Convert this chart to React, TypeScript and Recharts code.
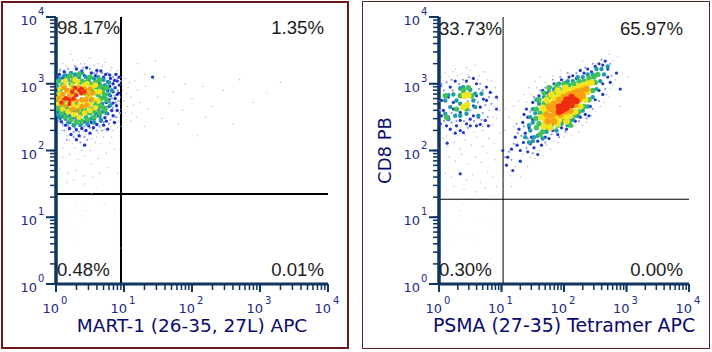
import { ScatterChart, Scatter, XAxis, YAxis, ReferenceLine } from "recharts";

type Pair = number[];

const tickValues = [
  1, 2, 3, 4, 5, 6, 7, 8, 9, 10, 20, 30, 40, 50, 60, 70, 80, 90, 100, 200, 300, 400, 500, 600, 700, 800, 900, 1000,
  2000, 3000, 4000, 5000, 6000, 7000, 8000, 9000, 10000,
];
const majorExponents: Record<number, number> = { 1: 0, 10: 1, 100: 2, 1000: 3, 10000: 4 };

const leftSoft: Pair[] = [
  [.08,1.32],[.16,1.28],[.24,1.3],[.3,1.26],[.38,1.24],[.42,1.3],[.05,1.16],[.12,1.08],[.2,1.12],[.3,1.14],[.38,1.02],[.46,1.1],[.64,1.24],[.72,1.2],
  [.14,.98],[.06,.86],[.2,.9],[.26,.82],[.34,.7],[.16,.72],[.26,.66],[.46,.98],[.96,.54],[.86,1.08],[.1,.5],[1.32,1.3],[.52,1.36],[.6,1.44],[.1,1.44],[.7,1.5],
];
const leftFaint: Pair[] = [
  [.05,2.26],[.12,2.1],[.2,2.15],[.28,2.04],[.36,2.2],[.44,2.1],[.5,2.0],[.6,2.2],[.66,2.1],[.74,2.28],[.82,2.2],[.9,2.34],[.1,1.9],[.2,1.94],[.32,1.86],[.42,1.92],[.52,1.8],[.62,1.88],[.74,1.96],[.86,2.02],
  [.06,1.72],[.18,1.66],[.3,1.7],[.4,1.62],[.54,1.6],[.64,1.66],[.76,1.74],[.9,1.66],[.16,1.52],[.26,1.56],[.42,1.5],
  [.1,3.3],[.24,3.36],[.36,3.3],[.5,3.38],[.62,3.3],[.72,3.32],[.82,3.24],[.22,3.44],[.9,3.16],[.96,3.1],[.98,2.9],[.94,2.7],[.98,2.52],[.92,2.44],[.8,2.36],[.66,2.34],[.1,2.36],[.96,2.36],
  [1.02,3.08],[1.06,2.94],[1.1,2.8],[1.05,2.66],[1.12,2.56],[1.16,3.04],[1.2,2.9],[1.24,2.72],[1.1,2.44],[1.3,3.14],[1.32,2.96],[1.36,2.62],[1.3,2.36],[1.44,3.06],[1.5,2.8],[1.56,2.48],[1.46,3.34],[1.6,3.1],
  [1.66,2.7],[1.72,2.88],[1.8,2.4],[1.9,3.0],[2.0,2.78],[2.08,2.22],[2.16,2.96],[2.3,2.66],[2.46,2.9],[2.6,2.4],[2.7,3.06],[2.9,2.72],[3.1,2.86],[3.3,3.02],[2.2,2.5],[1.2,3.3],[1.86,2.6],
  [.08,2.3],[.18,2.3],[.28,2.26],[.4,2.28],[.54,2.3],[.62,2.26],[.72,2.32],[.84,2.3],[.9,2.5],[.96,2.62],[.95,2.8],[.97,3.0],[.9,3.2],[.8,3.2],[.68,3.26],[.56,3.28],[.42,3.3],[.16,3.26],[.06,3.22],
  [.3,2.3],[.48,2.22],[.16,2.22],[.7,2.2],[.24,2.1],[.58,2.12],[.38,2.0],[.1,2.04],[.8,2.1],[.52,2.18],[1.0,2.74],[1.02,2.56],[1.04,2.86],[1.08,3.02],[1.14,2.68],[1.18,2.5],
];
const leftHaze: Pair[] = [
  [.06,3.2],[.18,3.22],[.28,3.26],[.4,3.24],[.5,3.22],[.6,3.16],[.68,3.16],[.76,3.16],[.84,3.1],[.9,3.08],[.95,3.04],[.82,2.92],[.91,2.9],[.86,2.82],[.92,2.74],[.88,2.72],[.84,2.64],[.94,2.56],[.88,2.5],[.8,2.46],[.78,2.4],
  [.7,2.42],[.64,2.36],[.58,2.4],[.5,2.34],[.42,2.36],[.34,2.28],[.26,2.28],[.18,2.36],[.1,2.4],[.04,2.44],[.12,2.3],[.42,2.2],[.6,2.3],[.68,2.3],[.16,2.16],[.26,2.2],[.36,2.12],[.46,2.16],[.28,2.34],[.72,2.58],[.8,2.72],[.7,3.04],
  [.56,3.16],[.34,3.18],[.14,3.16],[.78,2.98],[.82,2.78],[.66,2.5],[.24,2.4],[.4,2.4],[.5,2.44],[.08,2.5],
];
const leftBlue: Pair[] = [
  [.3,3.22],[.45,3.24],[.6,3.2],[.12,3.18],[.22,3.15],[.38,3.19],[.52,3.16],[.66,3.19],[.73,3.14],[.05,3.14],[.16,3.12],[.3,3.13],[.42,3.12],[.58,3.12],[.7,3.1],[.79,3.13],[.88,3.14],[.02,3.1],[.1,3.09],
  [.8,3.08],[.86,3.05],[.93,3.1],[.76,3.03],[.84,3.0],[.9,3.04],[.79,2.96],[.87,2.94],[.93,2.98],[.76,2.9],[.84,2.88],[.9,2.84],[.8,2.82],[.87,2.78],[.78,2.76],[.74,2.72],[.84,2.71],[.89,2.67],[.78,2.66],[.72,2.62],[.82,2.6],[.9,2.6],
  [.68,2.58],[.76,2.55],[.84,2.52],[.02,2.58],[.03,2.52],[.1,2.52],[.62,2.52],[.72,2.49],[.06,2.48],[.14,2.47],[.24,2.48],[.56,2.47],[.66,2.44],[.74,2.44],[.08,2.43],[.2,2.42],[.3,2.44],[.42,2.43],[.52,2.42],[.6,2.39],[.7,2.38],
  [.14,2.38],[.26,2.37],[.36,2.38],[.48,2.37],[.55,2.34],[.2,2.33],[.3,2.31],[.38,2.33],[.44,2.3],[.22,2.24],[.34,2.22],[.5,2.26],[.3,2.16],[.42,2.08],[.86,2.42],[.76,2.32],[1.42,3.1],[.92,2.86],
];
const leftTeal: Pair[] = [
  [.12,3.12],[.28,3.14],[.44,3.1],[.56,3.08],[.06,3.08],[.18,3.06],[.34,3.1],[.48,3.06],[.62,3.04],[.7,3.06],[.02,3.03],[.12,3.0],[.64,3.0],[.72,2.98],[.76,2.93],[.02,2.96],[.7,2.92],[.78,2.84],[.7,2.8],
  [.76,2.74],[.68,2.7],[.72,2.64],[.02,2.7],[.03,2.64],[.62,2.62],[.68,2.58],[.06,2.6],[.14,2.55],[.58,2.56],[.64,2.52],[.2,2.52],[.28,2.5],[.36,2.46],[.44,2.5],[.52,2.48],[.3,2.44],[.12,2.5],[.1,2.62],[.26,2.56],
  [.18,2.42],[.26,2.38],[.36,2.38],[.46,2.4],[.56,2.42],[.66,2.46],[.74,2.56],[.8,2.68],[.82,2.9],[.78,3.02],[.02,2.54],[.06,2.5],[.62,3.1],[.22,3.16],[.38,3.16],
];
const leftGreen: Pair[] = [
  [.04,3.04],[.16,3.08],[.26,3.08],[.38,3.04],[.5,3.0],[.58,3.02],[.66,2.96],[.1,2.98],[.24,3.02],[.44,3.02],[.6,2.94],[.68,2.88],[.72,2.84],[.62,2.84],[.66,2.78],[.62,2.72],[.66,2.66],[.58,2.68],[.56,2.6],[.5,2.56],
  [.44,2.56],[.36,2.54],[.26,2.6],[.18,2.6],[.1,2.66],[.04,2.72],[.04,2.86],[.02,2.78],[.12,2.72],[.3,2.62],[.4,2.6],[.52,2.62],
  [.14,2.5],[.22,2.46],[.3,2.42],[.38,2.44],[.46,2.46],[.56,2.5],[.64,2.56],[.72,2.62],[.74,2.76],[.74,2.94],[.08,2.56],[.03,2.62],[.2,3.12],[.34,3.14],[.5,3.1],[.64,3.06],
];
const leftYellow: Pair[] = [
  [.12,2.96],[.22,2.98],[.32,3.02],[.42,2.98],[.52,2.94],[.58,2.88],[.5,2.82],[.56,2.76],[.5,2.7],[.42,2.66],[.34,2.66],[.26,2.68],[.18,2.7],[.1,2.76],[.06,2.84],[.06,2.92],[.28,2.92],[.4,2.72],[.48,2.88],
  [.1,2.62],[.18,2.58],[.26,2.54],[.34,2.5],[.42,2.56],[.5,2.6],[.58,2.64],[.62,2.74],[.64,2.88],[.58,2.98],[.04,2.7],[.46,3.0],[.28,3.06],[.14,3.04],
];
const leftOrange: Pair[] = [
  [.16,2.9],[.24,2.92],[.34,2.94],[.42,2.92],[.46,2.84],[.38,2.86],[.14,2.78],[.22,2.76],[.3,2.74],[.1,2.84],[.2,2.84],[.38,2.76],[.44,2.76],[.28,2.84],[.34,2.92],
  [.08,2.7],[.16,2.66],[.24,2.62],[.32,2.6],[.38,2.66],[.46,2.68],[.52,2.76],[.54,2.86],[.5,2.92],[.12,2.94],[.04,2.78],
];
const leftRed: Pair[] = [
  [.34,2.9],[.37,2.86],[.3,2.83],[.16,2.78],[.2,2.76],[.12,2.78],[.26,2.78],[.38,2.93],[.24,2.88],[.2,2.7],[.08,2.72],[.42,2.88],[.28,2.94],
];
const leftSpeckle: Pair[] = [
  [.2,3.0],[.46,3.06],[.58,2.72],[.32,2.6],[.16,2.64],[.54,2.9],[.08,2.9],[.3,2.7],[.42,2.84],[.24,2.96],[.5,2.76],[.12,2.58],[.44,2.62],[.36,3.0],[.6,2.82],
];
const leftSpeckleWarm: Pair[] = [
  [.3,2.88],[.18,2.86],[.1,2.8],[.24,2.7],[.34,2.7],[.44,2.82],[.4,2.96],[.14,2.7],[.22,2.94],[.5,2.7],[.06,2.76],[.3,2.64],
];

const rightSoft: Pair[] = [
  [.2,1.18],[.3,1.24],[.38,1.2],[.5,1.3],[.6,1.32],[.72,1.3],[.82,1.32],[.9,1.24],[.34,1.1],[.62,1.0],[.7,.96],[.8,.92],[.86,.88],[.18,.82],[.24,.76],[.3,.68],[.14,.7],[.22,.62],[.48,.7],[.64,.66],[.14,.52],[.1,.42],
  [.96,1.34],[.32,1.02],
];
const rightFaint: Pair[] = [
  [.06,2.18],[.14,2.06],[.24,2.12],[.34,2.02],[.42,2.16],[.52,2.08],[.6,2.2],[.7,2.06],[.8,2.18],[.88,2.1],[.16,1.9],[.26,1.84],[.36,1.94],[.46,1.8],[.58,1.9],[.68,1.82],[.76,1.96],[.9,1.86],[.1,1.66],[.2,1.6],[.32,1.7],[.44,1.56],
  [.54,1.64],[.66,1.52],[.78,1.68],[.86,1.6],[.24,1.46],[.4,1.42],[.6,1.38],[.74,1.44],[.92,1.46],
  [.1,3.16],[.22,3.18],[.36,3.14],[.5,3.2],[.64,3.12],[.72,3.18],[.84,3.04],[.9,2.94],[.94,2.76],[.88,2.66],[.92,2.48],[.84,2.38],[.7,2.3],[.06,2.34],[.18,2.3],[.58,3.28],[.98,2.6],[.98,2.26],
  [1.06,2.62],[1.12,2.5],[1.2,2.66],[1.28,2.74],[1.36,2.84],[1.44,2.94],[1.54,3.04],[1.62,3.1],[1.06,2.3],[1.2,2.36],[1.04,1.56],[1.14,1.62],[1.22,1.76],[1.32,1.82],[1.42,1.76],[1.54,1.88],[1.66,1.92],[1.78,2.02],
  [1.9,2.12],[2.0,2.2],[2.12,2.22],[2.24,2.28],[2.36,2.42],[2.5,2.58],[2.64,2.72],[2.74,2.92],[2.82,3.06],[2.78,3.34],[2.72,3.44],[2.86,3.4],[1.02,2.16],[1.16,1.46],[1.3,1.6],[2.68,2.84],[2.9,2.66],[3.02,3.1],[2.3,3.34],[1.94,3.2],
  [.04,3.1],[.16,3.1],[.3,3.12],[.46,3.14],[.62,3.06],[.78,3.06],[.86,2.86],[.88,2.78],[.8,2.6],[.86,2.5],[.7,2.36],[.56,2.28],[.42,2.24],[.3,2.22],[.12,2.22],[.26,3.22],[.44,3.24],
  [1.3,2.5],[1.4,2.72],[1.48,2.84],[1.56,2.94],[1.7,3.02],[1.82,3.12],[1.34,1.94],[1.46,1.9],[1.6,2.0],[1.72,2.08],[1.84,2.14],[2.06,2.26],[2.3,2.38],[2.44,2.52],[2.58,2.66],[2.72,2.8],[2.78,2.98],
];
const rightHaze: Pair[] = [
  [.04,3.0],[.12,3.02],[.2,3.06],[.32,3.0],[.38,3.06],[.48,3.1],[.66,3.0],[.7,2.9],[.8,2.8],[.74,2.68],[.84,2.7],[.7,2.56],[.78,2.5],[.68,2.46],[.56,2.44],[.46,2.34],[.4,2.44],[.28,2.44],[.2,2.42],[.08,2.44],[.02,2.6],[.02,2.74],[.08,2.9],
  [.22,2.9],[.46,2.74],[.3,2.6],[.2,2.56],[.5,2.6],[.62,2.72],[.64,2.92],
  [1.24,2.4],[1.32,2.22],[1.2,2.1],[1.12,1.98],[1.4,2.04],[1.5,1.96],[1.36,2.36],[1.46,2.58],[1.52,2.8],[1.62,2.9],[1.7,2.94],[1.82,3.06],[1.94,3.1],[2.06,3.16],[2.2,3.16],[2.34,3.24],[2.46,3.3],[2.6,3.36],[2.74,3.3],
  [1.7,2.12],[1.8,2.24],[1.92,2.2],[2.02,2.28],[2.14,2.36],[2.24,2.44],[2.36,2.48],[2.46,2.62],[2.56,2.74],[2.66,2.92],[2.76,3.12],[1.26,2.26],[1.16,1.86],[1.06,1.9],[1.42,2.18],
];
const rightBlue: Pair[] = [
  [.26,3.04],[.44,3.04],[.55,3.08],[.6,3.0],[.02,2.97],[.76,2.95],[.18,2.95],[.34,2.94],[.82,2.87],[.1,2.82],[.15,2.8],[.6,2.82],[.92,2.8],[.71,2.77],[.04,2.75],[.23,2.72],[.76,2.75],[.55,2.67],[.66,2.65],[.92,2.62],
  [.07,2.6],[.23,2.62],[.34,2.57],[.55,2.52],[.04,2.52],[.15,2.5],[.34,2.45],[.5,2.47],[.63,2.5],[.74,2.45],[.79,2.37],[.6,2.37],[.66,2.39],[.12,2.37],[.28,2.37],[.44,2.4],[.34,2.3],[.26,2.26],[.39,2.27],[.13,2.11],[.34,1.65],
  [.02,2.4],[.18,2.32],[.5,2.37],
  [1.42,2.5],[1.5,2.72],[1.55,2.62],[1.6,2.82],[1.66,2.9],[1.72,2.86],[1.78,2.95],[1.84,3.0],[1.9,2.94],[1.96,3.06],[2.02,3.02],[2.08,3.1],[2.14,3.12],[2.2,3.08],[2.26,3.2],[2.32,3.16],[2.38,3.22],[2.44,3.18],[2.5,3.26],[2.56,3.3],[2.62,3.28],[2.66,3.34],[2.7,3.22],
  [1.3,2.0],[1.35,2.12],[1.42,1.98],[1.46,2.1],[1.52,2.04],[1.58,2.14],[1.64,2.08],[1.7,2.2],[1.76,2.18],[1.82,2.3],[1.9,2.24],[1.96,2.34],[2.04,2.32],[2.1,2.4],[2.18,2.44],[2.26,2.5],[2.34,2.54],[2.42,2.66],[2.5,2.76],[2.56,2.9],[2.62,3.0],[2.7,3.1],
  [1.02,2.0],[1.1,1.9],[1.16,2.02],[1.22,2.2],[1.28,2.32],[1.34,2.42],[1.25,2.08],[1.08,1.78],[1.38,2.26],[1.18,1.7],[1.3,1.84],[1.44,2.34],[1.48,2.2],[1.4,2.62],[1.36,2.54],[1.5,2.46],[2.62,2.84],[2.74,3.02],[2.84,3.16],[2.9,2.92],[2.4,2.52],[1.58,1.94],
];
const rightTeal: Pair[] = [
  [.15,2.83],[.23,2.84],[.1,2.75],[.34,2.93],[.39,2.95],[.5,2.91],[.58,2.85],[.28,2.75],[.34,2.7],[.18,2.65],[.1,2.55],[.15,2.47],[.26,2.52],[.58,2.65],[.63,2.52],[.34,2.52],[.44,2.55],[.55,2.75],[.68,2.85],
  [1.54,2.56],[1.6,2.7],[1.68,2.8],[1.76,2.88],[1.84,2.92],[1.92,3.0],[2.0,2.98],[2.06,3.04],[2.14,3.04],[2.22,3.1],[2.3,3.1],[2.38,3.14],[2.46,3.14],[2.52,3.22],[2.6,3.22],[2.64,3.14],
  [1.46,2.3],[1.52,2.2],[1.58,2.22],[1.66,2.18],[1.72,2.28],[1.8,2.36],[1.88,2.3],[1.96,2.4],[2.06,2.38],[2.14,2.46],[2.22,2.52],[2.3,2.6],[2.38,2.66],[2.46,2.8],[2.52,2.92],[2.58,3.04],[1.5,2.42],[1.56,2.34],
  [1.46,2.5],[1.44,2.38],[1.5,2.62],[1.56,2.76],[1.38,2.2],[1.44,2.12],[1.5,2.14],[2.7,3.26],
];
const rightGreen: Pair[] = [
  [.39,2.9],[.47,2.94],[.52,2.82],[.34,2.82],[.1,2.82],[.39,2.65],[.44,2.62],[.12,2.5],[.28,2.62],
  [1.62,2.56],[1.68,2.7],[1.76,2.8],[1.84,2.86],[1.92,2.92],[2.0,2.92],[2.08,2.98],[2.16,3.0],[2.24,3.04],[2.32,3.04],[2.4,3.08],[2.48,3.1],[2.54,3.14],
  [1.6,2.4],[1.66,2.28],[1.74,2.34],[1.82,2.42],[1.9,2.38],[1.98,2.46],[2.08,2.44],[2.16,2.52],[2.24,2.58],[2.32,2.66],[2.4,2.76],[2.46,2.9],[2.5,3.02],
  [1.55,2.48],[1.56,2.62],[1.6,2.76],[1.68,2.86],[1.76,2.94],[1.88,2.98],[2.0,3.0],[1.56,2.34],[1.62,2.24],[2.1,2.38],
];
const rightYellow: Pair[] = [
  [.41,2.82],[.47,2.83],[.39,2.65],[.45,2.68],
  [1.7,2.6],[1.76,2.7],[1.84,2.78],[1.92,2.84],[2.0,2.86],[2.08,2.9],[2.16,2.92],[2.24,2.96],[2.32,2.98],[2.38,3.0],[2.44,3.02],
  [1.7,2.44],[1.76,2.42],[1.84,2.5],[1.92,2.46],[2.0,2.52],[2.1,2.52],[2.18,2.58],[2.26,2.66],[2.34,2.76],[2.38,2.88],[1.72,2.52],[2.3,2.86],
  [1.64,2.5],[1.66,2.64],[1.72,2.76],[1.8,2.84],[1.9,2.9],[2.02,2.94],[1.68,2.36],[1.78,2.34],[1.9,2.4],[2.04,2.44],
];
const rightOrange: Pair[] = [
  [1.78,2.62],[1.84,2.7],[1.92,2.76],[2.0,2.8],[2.08,2.84],[2.16,2.86],[2.22,2.88],[2.28,2.9],
  [1.8,2.52],[1.86,2.56],[1.94,2.54],[2.02,2.58],[2.1,2.6],[2.18,2.68],[2.24,2.76],[2.3,2.82],[1.86,2.64],[1.94,2.66],[2.2,2.8],
  [1.72,2.54],[1.74,2.44],[1.84,2.44],[1.76,2.66],[2.0,2.74],[2.26,2.86],[2.36,2.92],
];
const rightRed: Pair[] = [
  [1.92,2.66],[1.96,2.6],[2.0,2.7],[2.04,2.64],[2.08,2.72],[2.12,2.68],[2.16,2.76],[2.2,2.74],[1.92,2.58],[2.04,2.76],[2.12,2.8],[2.0,2.62],
];

const toPoints = (pairs: Pair[]) => pairs.map(([a, b]) => ({ x: 10 ** a, y: 10 ** b }));

const dot = (size: number, color: string) => (p: any) => <circle cx={p.cx} cy={p.cy} r={size / 2} fill={color} />;

const TICK_COLOR = "#0f3560";
const LABEL_COLOR = "#1d2a86";
const TITLE_COLOR = "#0a0a6e";
const FONT = "'DejaVu Sans', sans-serif";
const TICK_SIZE = 6; // the axis hands its ticks this far from the line

const XTick = ({ x, y, payload }: any) => {
  const exp = majorExponents[payload.value];
  if (exp === undefined) return <g />;
  const base = y - TICK_SIZE;
  return (
    <g>
      <rect x={x - 1} y={base} width={2} height={8} fill={TICK_COLOR} />
      <text x={x + 3} y={base + 29} textAnchor="end" fontFamily={FONT} fontSize={13} fill={LABEL_COLOR}>
        10
      </text>
      <text x={x + 5} y={base + 20} fontFamily={FONT} fontSize={10} fill={LABEL_COLOR}>
        {exp}
      </text>
    </g>
  );
};

const YTick = ({ x, y, payload }: any) => {
  const exp = majorExponents[payload.value];
  if (exp === undefined) return <g />;
  const base = x + TICK_SIZE;
  return (
    <g>
      <rect x={base - 10} y={y - 1} width={10} height={2} fill={TICK_COLOR} />
      <text x={base - 19} y={y + 8} textAnchor="end" fontFamily={FONT} fontSize={13} fill={LABEL_COLOR}>
        10
      </text>
      <text x={base - 18} y={y - 2} fontFamily={FONT} fontSize={10} fill={LABEL_COLOR}>
        {exp}
      </text>
    </g>
  );
};

const Corner = ({ x, y, right, children }: any) => (
  <div
    style={{
      position: "absolute",
      top: y,
      ...(right ? { right: 356 - x } : { left: x }),
      fontFamily: "'Liberation Sans', Arial, sans-serif",
      fontSize: 18.6,
      lineHeight: "20px",
      color: "#1c1c1c",
      whiteSpace: "nowrap",
    }}
  >
    {children}
  </div>
);

const Panel = ({ left, plotLeft, plotRight, gateX, gateY, gateWidth, layers, xTitle, titleSize, yTitle, frame }: any) => (
  <div style={{ position: "absolute", left, top: 0, width: 356, height: 352 }}>
    <div
      style={{
        position: "absolute",
        left: frame.left,
        top: 1,
        width: 347 - 2 * frame.width + 1,
        height: 347 - 2 * frame.width + 1,
        border: `${frame.width}px solid ${frame.color}`,
      }}
    />
    <ScatterChart width={356} height={352} margin={{ top: 17, right: 356 - plotRight, bottom: 0, left: 0 }}>
      <XAxis
        type="number"
        dataKey="x"
        scale="log"
        domain={[1, 10000]}
        ticks={tickValues}
        interval={0}
        allowDataOverflow
        height={68}
        tickSize={TICK_SIZE}
        tickMargin={0}
        tick={<XTick />}
        tickLine={{ stroke: TICK_COLOR, strokeWidth: 1.5 }}
        axisLine={{ stroke: TICK_COLOR, strokeWidth: 3 }}
        label={{
          value: xTitle,
          position: "insideBottom",
          offset: 20,
          style: { fontFamily: FONT, fontSize: titleSize, fill: TITLE_COLOR },
        }}
      />
      <YAxis
        type="number"
        dataKey="y"
        scale="log"
        domain={[1, 10000]}
        ticks={tickValues}
        interval={0}
        allowDataOverflow
        width={plotLeft}
        tickSize={TICK_SIZE}
        tickMargin={0}
        tick={<YTick />}
        tickLine={{ stroke: TICK_COLOR, strokeWidth: 1.5 }}
        axisLine={{ stroke: TICK_COLOR, strokeWidth: 3.5 }}
        label={
          yTitle
            ? {
                value: yTitle,
                angle: -90,
                position: "insideLeft",
                offset: 29,
                style: { fontFamily: FONT, fontSize: 18, fill: TITLE_COLOR, textAnchor: "middle" },
              }
            : undefined
        }
      />
      {layers.map(([pairs, size, color]: any, i: number) => (
        <Scatter key={i} data={toPoints(pairs)} shape={dot(size, color)} isAnimationActive={false} />
      ))}
      <ReferenceLine x={gateX} stroke="#000" strokeWidth={gateWidth} />
      <ReferenceLine y={gateY} stroke="#000" strokeWidth={gateWidth} />
    </ScatterChart>
  </div>
);

const leftLayers = [
  [leftSoft, 1.1, "#dcdce4"],
  [leftFaint, 1.3, "#a8a8de"],
  [leftHaze, 2.2, "#8f96ea"],
  [leftBlue, 3.4, "#1f35cc"],
  [leftTeal, 4.4, "#1e9aa8"],
  [leftGreen, 5.4, "#3fc257"],
  [leftYellow, 5.6, "#f2e41f"],
  [leftOrange, 5.4, "#f7a012"],
  [leftRed, 4.4, "#ee2c10"],
  [leftSpeckle, 2.4, "#48c45a"],
  [leftSpeckleWarm, 2.2, "#f5dd22"],
];
const rightLayers = [
  [rightSoft, 1.1, "#dcdce4"],
  [rightFaint, 1.3, "#a8a8de"],
  [rightHaze, 2.2, "#8f96ea"],
  [rightBlue, 3.2, "#1f35cc"],
  [rightTeal, 4.4, "#1e9aa8"],
  [rightGreen, 5.4, "#3fc257"],
  [rightYellow, 6.5, "#f2e41f"],
  [rightOrange, 6.5, "#f7a012"],
  [rightRed, 6.5, "#ee2c10"],
];

export default function App() {
  return (
    <div style={{ position: "fixed", left: 0, top: 0, width: 712, height: 352, background: "#fff", overflow: "hidden" }}>
      <Panel
        left={0}
        plotLeft={56}
        plotRight={328}
        gateX={9.03}
        gateY={22.3}
        gateWidth={2}
        layers={leftLayers}
        xTitle="MART-1 (26-35, 27L) APC"
        titleSize={18.5}
        frame={{ left: 1, width: 2, color: "#6b1717" }}
      />
      <Panel
        left={356}
        plotLeft={83}
        plotRight={333}
        gateX={10.6}
        gateY={18.6}
        gateWidth={1}
        layers={rightLayers}
        xTitle="PSMA (27-35) Tetramer APC"
        titleSize={18.9}
        yTitle="CD8 PB"
        frame={{ left: 6, width: 1, color: "#5e2020" }}
      />
      <div style={{ position: "absolute", left: 0, top: 0, width: 356, height: 352 }}>
        <Corner x={57} y={18}>98.17%</Corner>
        <Corner x={324} y={18} right>1.35%</Corner>
        <Corner x={57} y={260}>0.48%</Corner>
        <Corner x={324} y={260} right>0.01%</Corner>
      </div>
      <div style={{ position: "absolute", left: 356, top: 0, width: 356, height: 352 }}>
        <Corner x={83} y={19}>33.73%</Corner>
        <Corner x={327} y={19} right>65.97%</Corner>
        <Corner x={83} y={260}>0.30%</Corner>
        <Corner x={327} y={260} right>0.00%</Corner>
      </div>
    </div>
  );
}
